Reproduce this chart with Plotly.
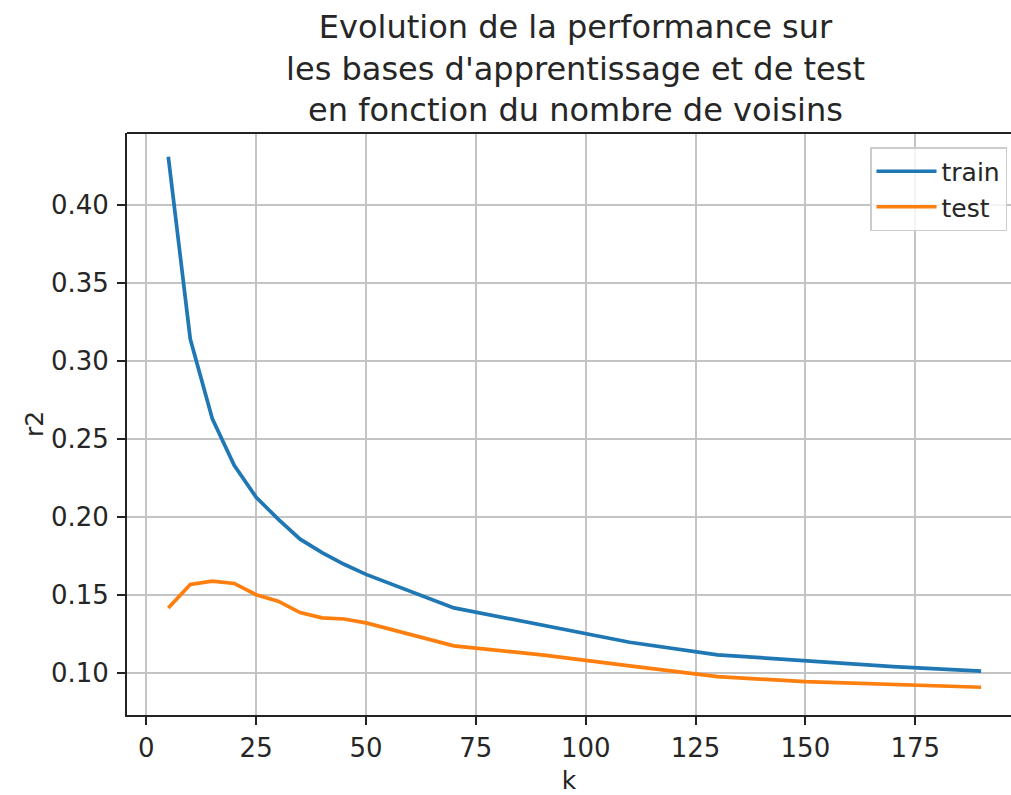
import plotly.graph_objects as go

k = [5, 10, 15, 20, 25, 30, 35, 40, 45, 50, 70, 90, 110, 130, 150, 170, 190]
r2_train = [0.431, 0.314, 0.263, 0.233, 0.2125, 0.1985, 0.1856, 0.177, 0.1695, 0.163,
            0.1415, 0.1305, 0.1195, 0.1114, 0.1075, 0.1038, 0.101]
r2_test = [0.1415, 0.1566, 0.1587, 0.1572, 0.150, 0.1458, 0.1385, 0.1351, 0.1344, 0.1319,
           0.1172, 0.1114, 0.1043, 0.0974, 0.0942, 0.0923, 0.0906]

title_lines = ["Evolution de la performance sur",
               "les bases d'apprentissage et de test",
               "en fonction du nombre de voisins"]
x_ticks = [0, 25, 50, 75, 100, 125, 150, 175]
y_ticks = [0.10, 0.15, 0.20, 0.25, 0.30, 0.35, 0.40]

FONT = "DejaVu Sans"
TXT = "#262626"

fig = go.Figure()
fig.add_trace(go.Scatter(x=k, y=r2_train, mode="lines", name="train",
                         line=dict(color="#1f77b4", width=3.7)))
fig.add_trace(go.Scatter(x=k, y=r2_test, mode="lines", name="test",
                         line=dict(color="#ff7f0e", width=3.7)))

axis_common = dict(
    showgrid=True, gridcolor="#c4c4c4", gridwidth=1.8,
    zeroline=False, showline=True, linecolor="#222222", linewidth=1.8,
    ticks="outside", ticklen=8, tickwidth=1.6, tickcolor="#222222",
    tickfont=dict(family=FONT, size=26, color=TXT),
)

fig.update_layout(
    width=1011, height=795,
    margin=dict(l=127, r=0, t=133, b=80),
    paper_bgcolor="white", plot_bgcolor="white",
    font=dict(family=FONT, color=TXT),
    title=dict(text="<br>".join(title_lines), x=575.5 / 1011, xref="container", xanchor="center",
               y=1 - 38 / 795, yref="container", yanchor="top",
               font=dict(family=FONT, size=32, color=TXT)),
    xaxis=dict(range=[-4.4, 196.8], tickvals=x_ticks, ticktext=[str(v) for v in x_ticks],
               title=dict(text="k", font=dict(family=FONT, size=25, color=TXT), standoff=13),
               ticklabelstandoff=1, **axis_common),
    yaxis=dict(range=[0.0728, 0.4462], tickvals=y_ticks, ticktext=[f"{v:.2f}" for v in y_ticks],
               title=dict(text="r2", font=dict(family=FONT, size=25, color=TXT), standoff=0),
               ticklabelstandoff=3, **axis_common),
    legend=dict(x=(1007 - 127) / 884, xanchor="right", y=1 - (147 - 133) / 582, yanchor="top",
                bgcolor="rgba(255,255,255,0.8)", bordercolor="#cccccc", borderwidth=1.5,
                font=dict(family=FONT, size=25, color=TXT), itemwidth=60),
    showlegend=True,
)

fig.add_shape(type="line", xref="paper", yref="paper", x0=0, x1=1, y0=1, y1=1,
              line=dict(color="#222222", width=1.8))

fig.write_html("out.html")
